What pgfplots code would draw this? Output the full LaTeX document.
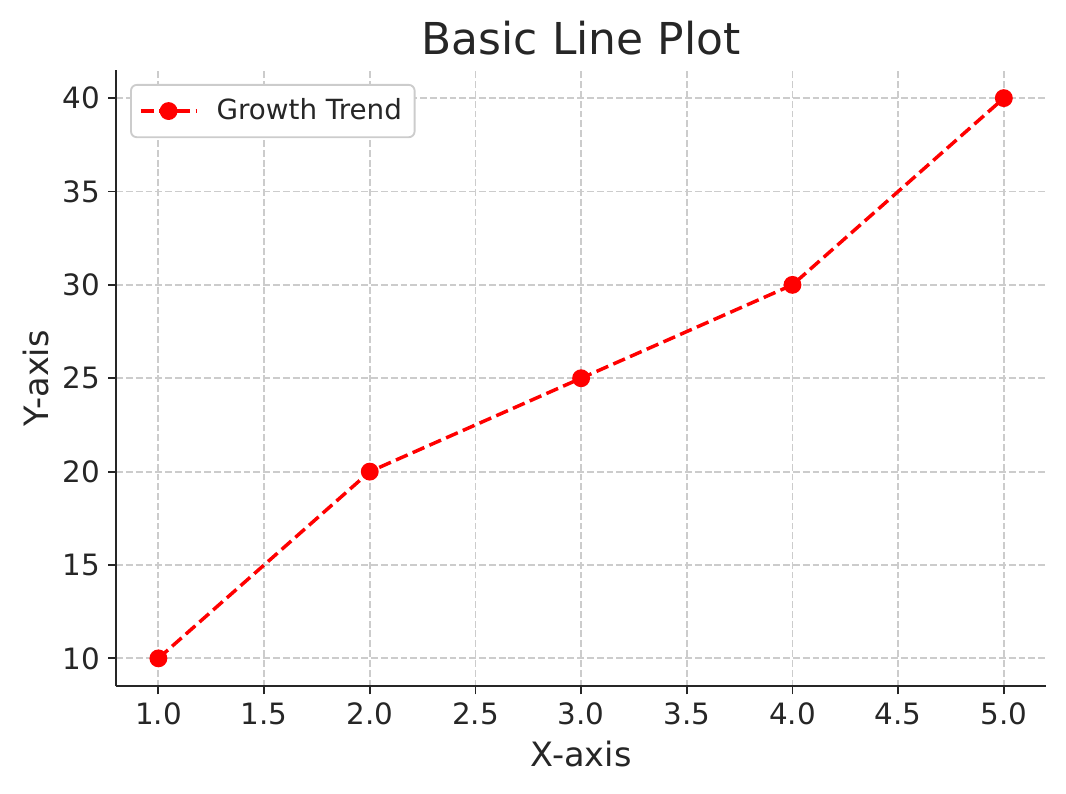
\documentclass[border=0pt]{standalone}
\usepackage{pgfplots}
\pgfplotsset{compat=1.18}
\usepackage{fontspec}
\setmainfont{DejaVu Sans}
\definecolor{txt}{HTML}{262626}
\definecolor{gridc}{HTML}{CCCCCC}
\begin{document}
\begin{tikzpicture}
\begin{axis}[
  scale only axis,
  width=402pt, height=266.4pt,
  xmin=0.8, xmax=5.2, ymin=8.5, ymax=41.5,
  xtick={1,1.5,...,5}, ytick={10,15,...,40},
  xticklabel style={/pgf/number format/.cd,fixed,fixed zerofill,precision=1},
  /pgf/number format/assume math mode=true,
  axis x line*=bottom, axis y line*=left,
  axis line style={-, line width=0.8pt, color=txt},
  tick align=outside, tick style={line width=0.8pt, color=txt},
  major tick length=3.5pt,
  ticklabel style={font=\fontsize{12.7}{15}\selectfont, color=txt},
  grid=major,
  grid style={gridc, line width=0.8pt, dash pattern=on 2.96pt off 1.28pt},
  title={Basic Line Plot},
  title style={font=\fontsize{19}{22}\selectfont, color=txt, yshift=-3pt},
  xlabel={X-axis}, ylabel={Y-axis},
  ylabel style={yshift=-1pt},
  label style={font=\fontsize{14.5}{17}\selectfont, color=txt},
  legend style={at={(0.015,0.9775)}, anchor=north west, draw=gridc, line width=0.8pt,
    rounded corners=2.5pt, font=\fontsize{12}{14}\selectfont, text=txt,
    inner xsep=3.5pt, inner ysep=4pt, column sep=6pt},
  legend cell align=left,
  legend image code/.code={
    \draw[#1, mark=none] (0pt,0pt) -- (24pt,0pt);
    \draw[#1, only marks] plot coordinates {(12pt,0pt)};
  },
]
\addplot[red, line width=1.5pt, mark=*, mark size=3.1pt,
  mark options={solid}, dash pattern=on 5.5pt off 2.4pt]
  coordinates {(1,10) (2,20) (3,25) (4,30) (5,40)};
\addlegendentry{Growth Trend}
\end{axis}
\pgfresetboundingbox
\useasboundingbox ([xshift=-50.2pt,yshift=-46.3pt]current axis.south west)
  rectangle ([xshift=8.6pt,yshift=30.3pt]current axis.north east);
\end{tikzpicture}
\end{document}
